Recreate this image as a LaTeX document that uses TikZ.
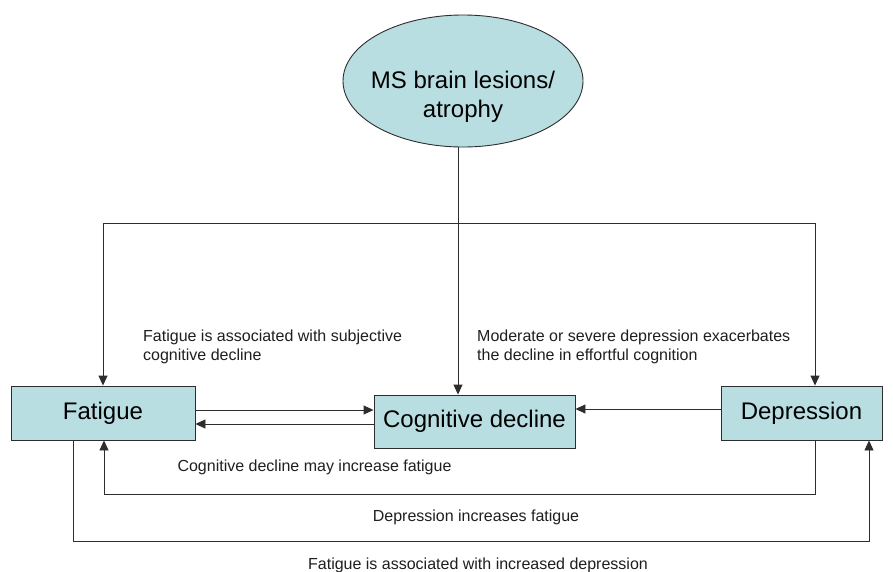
\documentclass[tikz,border=0pt]{standalone}
\usepackage{fontspec}
\setmainfont{Liberation Sans}
\usetikzlibrary{arrows.meta,shapes.geometric}
\definecolor{boxfill}{RGB}{185,222,226}
\definecolor{linec}{RGB}{45,45,45}
\tikzset{
  boxnode/.style={draw=linec,line width=0.9pt,fill=boxfill,rectangle,inner sep=0pt,font=\fontsize{24}{29}\selectfont},
  lbl/.style={inner sep=0pt,font=\fontsize{16}{19}\selectfont,text=black!88},
  conn/.style={draw=linec,line width=0.9pt},
  arr/.style={conn,-{Triangle[length=10pt,width=9pt]}}
}
\begin{document}
\begin{tikzpicture}[x=1pt,y=-1pt]
\useasboundingbox (0,0) rectangle (893,571);
\fill[white] (0,0) rectangle (893,571);
% nodes
\node[ellipse,draw=linec,line width=0.9pt,fill=boxfill,minimum width=240pt,minimum height=132pt,inner sep=0pt] (ms) at (463,81) {};
\node[inner sep=0pt,align=center,font=\fontsize{24}{29}\selectfont] (msl) at (463,97) {MS brain lesions/\\atrophy};
\node[boxnode,minimum width=184pt,minimum height=54pt] (fat) at (103,413) {Fatigue};
\node[boxnode,minimum width=201pt,minimum height=53pt] (cog) at (474.5,421.5) {Cognitive decline};
\node[boxnode,minimum width=161pt,minimum height=54pt] (dep) at (801.5,413) {Depression};
% junction coordinates
\coordinate (j) at (458,223);
\coordinate (jl) at (103,223);
\coordinate (jr) at (815,223);
% top connectors
\draw[arr] (ms.south -| j) -- (j |- cog.north);
\draw[arr] (j) -- (jl) -- (jl |- fat.north);
\draw[arr] (j) -- (jr) -- (jr |- dep.north);
% horizontal connectors
\draw[arr] (fat.east |- 0,410) -- (cog.west |- 0,410);
\draw[arr] (cog.west |- 0,424) -- (fat.east |- 0,424);
\draw[arr] (dep.west |- 0,409) -- (cog.east |- 0,409);
% bottom loops
\coordinate (b1) at (815,494);
\coordinate (b2) at (104,494);
\draw[arr] (b1 |- dep.south) -- (b1) -- (b2) -- (b2 |- fat.south);
\coordinate (c1) at (73,541);
\coordinate (c2) at (869,541);
\draw[arr] (c1 |- fat.south) -- (c1) -- (c2) -- (c2 |- dep.south);
% labels
\node[lbl,align=left,anchor=north west] (t1) at (143,330) {Fatigue is associated with subjective\\cognitive decline};
\node[lbl,align=left,anchor=north west] (t2) at (477,330) {Moderate or severe depression exacerbates\\the decline in effortful cognition};
\node[lbl] (t3) at (314.5,467) {Cognitive decline may increase fatigue};
\node[lbl] (t4) at (476,517) {Depression increases fatigue};
\node[lbl] (t5) at (478,565) {Fatigue is associated with increased depression};
\end{tikzpicture}
\end{document}
